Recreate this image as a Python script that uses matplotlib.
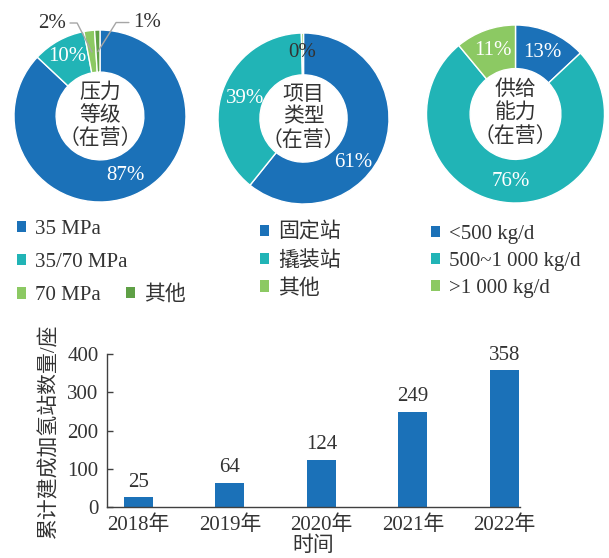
import numpy as np
import matplotlib
matplotlib.use('Agg')
import matplotlib.pyplot as plt
from matplotlib.patches import Patch

plt.rcParams['font.family'] = ['Liberation Serif', 'Noto Sans CJK SC']

# ---- data ----
pressure_labels = ['35 MPa', '35/70 MPa', '70 MPa', '其他']
pressure_vals = [87, 10, 2, 1]

type_labels = ['固定站', '撬装站', '其他']
type_vals = [61, 39, 0.4]

supply_labels = ['<500 kg/d', '500~1 000 kg/d', '>1 000 kg/d']
supply_vals = [13, 76, 11]

years = ['2018年', '2019年', '2020年', '2021年', '2022年']
station_counts = [25, 64, 124, 249, 358]

BLUE = '#1b71b8'
TEAL = '#21b4b6'
LGREEN = '#8cc963'
DGREEN = '#5fa046'
TXT = '#333333'

W, H = 609, 558
fig = plt.figure(figsize=(W / 100, H / 100), dpi=100)


def px_axes(cx, cy, r):
    return fig.add_axes([(cx - r) / W, 1 - (cy + r) / H, 2 * r / W, 2 * r / H])


def donut(ax, vals, colors, center_text):
    wedges, _ = ax.pie(vals, colors=colors, startangle=90, counterclock=False,
                       radius=1, wedgeprops=dict(width=0.49, edgecolor='white', linewidth=1))
    ax.set_xlim(-1, 1)
    ax.set_ylim(-1, 1)
    ax.text(0, 0, center_text, ha='center', va='center', fontsize=15,
            color=TXT, linespacing=1.25)
    mids = [(w.theta1 + w.theta2) / 2 for w in wedges]
    return wedges, mids


def pct_text(ax, ang, val, color, r=0.755):
    a = np.deg2rad(ang)
    ax.text(r * np.cos(a), r * np.sin(a), '%d%%' % round(val), ha='center', va='center',
            fontsize=15, color=color)


# donut 1 : pressure
ax1 = px_axes(100, 116, 86)
w1, m1 = donut(ax1, pressure_vals, [BLUE, TEAL, LGREEN, DGREEN], '压力\n等级\n（在营）')
pct_text(ax1, m1[0], pressure_vals[0], 'white')
pct_text(ax1, m1[1], pressure_vals[1], 'white', r=0.79)
for i, (dx, dy, side, angB) in zip([2, 3], [(-40, 29, 1, 117), (49, 29, 0, 58)]):
    a = np.deg2rad(m1[i])
    ax1.annotate('%d%%' % pressure_vals[i], xy=(0.75 * np.cos(a), 0.75 * np.sin(a)),
                 xytext=(dx, dy), textcoords='offset pixels', fontsize=15, color=TXT,
                 ha='center', va='center',
                 arrowprops=dict(arrowstyle='-', color='#a6a6a6', lw=1, shrinkA=1, shrinkB=0,
                                 relpos=(side, 0.5),
                                 connectionstyle='angle,angleA=0,angleB=%d,rad=0' % angB))

# donut 2 : project type
ax2 = px_axes(303.5, 118.5, 85.5)
w2, m2 = donut(ax2, type_vals, [BLUE, TEAL, LGREEN], '项目\n类型\n（在营）')
pct_text(ax2, m2[0] - 22, type_vals[0], 'white', r=0.78)
pct_text(ax2, m2[1], type_vals[1], 'white', r=0.72)
pct_text(ax2, m2[2], 0, TXT, r=0.77)

# donut 3 : supply capacity
ax3 = px_axes(515.5, 114, 89)
w3, m3 = donut(ax3, supply_vals, [BLUE, TEAL, LGREEN], '供给\n能力\n（在营）')
for ang, v in zip(m3, supply_vals):
    pct_text(ax3, ang, v, 'white')

# legends
leg_kw = dict(frameon=False, loc='upper left', borderpad=0, borderaxespad=0,
              handlelength=0.45, handleheight=0.45, handletextpad=0.4, labelcolor=TXT)


def add_legend(labels, colors, x, y, fs, spacing):
    hs = [Patch(facecolor=c, edgecolor='none') for c in colors]
    lg = fig.legend(hs, labels, bbox_to_anchor=(x / W, 1 - y / H), fontsize=fs,
                    labelspacing=spacing, **leg_kw)
    return lg


add_legend(pressure_labels[:3], [BLUE, TEAL, LGREEN], 17, 220, 15, 0.68)
add_legend(pressure_labels[3:], [DGREEN], 126, 285, 15, 0.56)
add_legend(type_labels, [BLUE, TEAL, LGREEN], 260, 223, 15, 0.38)
add_legend(supply_labels, [BLUE, TEAL, LGREEN], 431, 225, 15, 0.38)

# bar chart
axb = fig.add_axes([107 / W, 1 - 507 / H, 413 / W, 153 / H])
x = np.arange(len(years))
bars = axb.bar(x, station_counts, width=0.317, color=BLUE)
axb.bar_label(bars, padding=4, fontsize=15, color=TXT)
axb.set_xlim(-0.344, 4.17)
axb.set_ylim(0, 400)
axb.set_yticks([0, 100, 200, 300, 400])
axb.set_xticks(x)
axb.set_xticklabels(years)
axb.spines['top'].set_visible(False)
axb.spines['right'].set_visible(False)
for s in ['left', 'bottom']:
    axb.spines[s].set_color('#404040')
    axb.spines[s].set_linewidth(1)
axb.tick_params(axis='y', direction='in', length=4, width=1, color='#404040',
                labelsize=15, labelcolor=TXT, pad=6)
axb.tick_params(axis='x', length=0, labelsize=15, labelcolor=TXT, pad=6)
axb.set_ylabel('累计建成加氢站数量/座', fontsize=15, color=TXT)
axb.yaxis.set_label_coords(-0.114, 0.5)
axb.set_xlabel('时间', fontsize=15, color=TXT)
axb.xaxis.set_label_coords(0.5, -0.19)

fig.savefig('out.png', dpi=100)
